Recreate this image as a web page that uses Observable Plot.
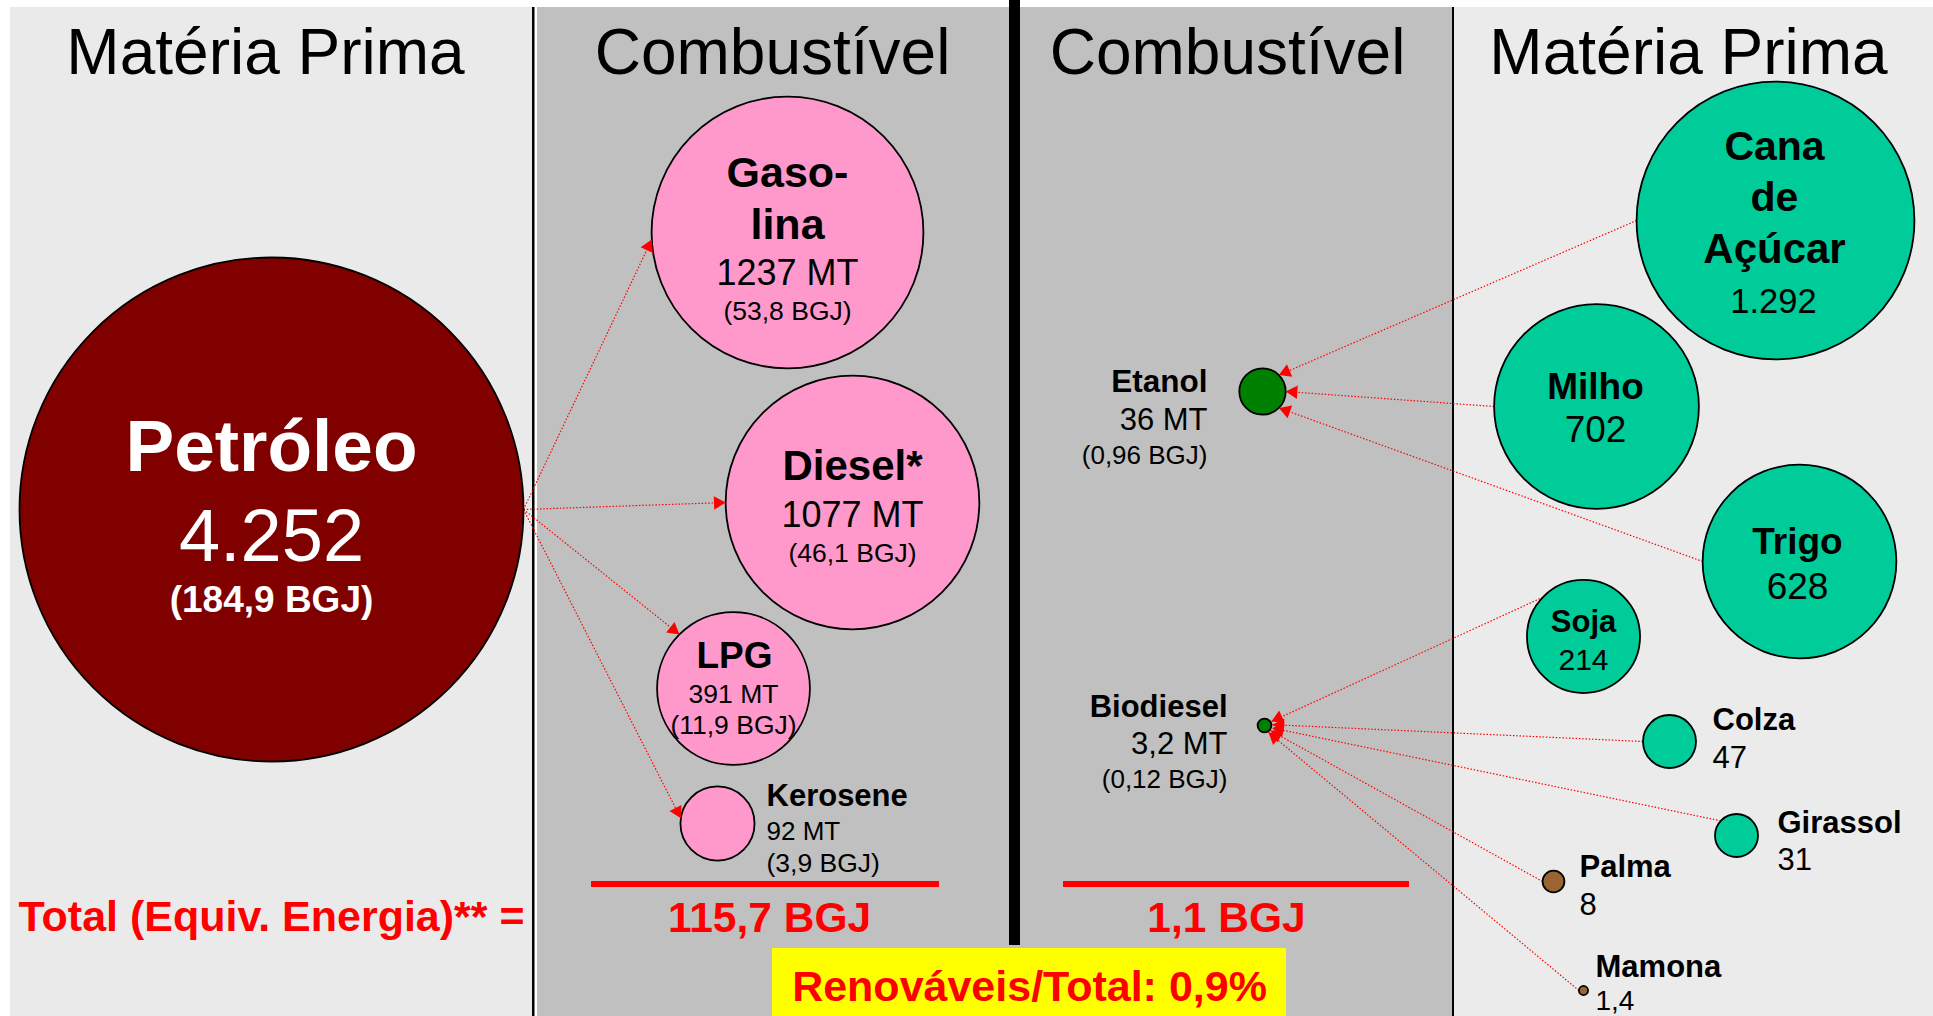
<!DOCTYPE html>
<html>
<head>
<meta charset="utf-8">
<script src="https://cdn.jsdelivr.net/npm/d3@7"></script>
<script src="https://cdn.jsdelivr.net/npm/@observablehq/plot@0.6"></script>
<style>
  html, body { margin: 0; padding: 0; background: #ffffff; overflow: hidden; }
  #chart svg { display: block; }
</style>
</head>
<body>
<div id="chart"></div>
<script>
// ================= DATA =================
const feedName = "Petróleo";
const feedMT = 4252;
const feedBGJ = 184.9;

const fuelNames = ["Gasolina", "Diesel*", "LPG", "Kerosene"];
const fuelMT = [1237, 1077, 391, 92];
const fuelBGJ = [53.8, 46.1, 11.9, 3.9];

const bioNames = ["Etanol", "Biodiesel"];
const bioMT = [36, 3.2];
const bioBGJ = [0.96, 0.12];

const cropNames = ["Cana de Açúcar", "Milho", "Trigo", "Soja", "Colza", "Girassol", "Palma", "Mamona"];
const cropMT = [1292, 702, 628, 214, 47, 31, 8, 1.4];
const cropFuel = ["Etanol", "Etanol", "Etanol", "Biodiesel", "Biodiesel", "Biodiesel", "Biodiesel", "Biodiesel"];

const totalBGJ = [115.7, 1.1];
const renewableShare = 0.9;

const titles = ["Matéria Prima", "Combustível", "Combustível", "Matéria Prima"];
const totalLabel = "Total (Equiv. Energia)** =";
const shareLabel = "Renováveis/Total: ";

// ================= LAYOUT (positions, sizes, styles) =================
const W = 1933, H = 1016;
const titleX = [265, 772, 1227, 1688];
const titleBaseline = 73;

const panelLayout = [
  {x1: 10, x2: 533, y1: 7, y2: H, fill: "#eaeaea"},
  {x1: 537, x2: 1452, y1: 7, y2: H, fill: "#c0c0c0"},
  {x1: 1454, x2: W, y1: 7, y2: H, fill: "#ebebeb"},
  {x1: 532, x2: 534.5, y1: 7, y2: H, fill: "#000000"},
  {x1: 1452, x2: 1454, y1: 7, y2: H, fill: "#000000"},
  {x1: 1009, x2: 1020, y1: 0, y2: 945, fill: "#000000"}
];

const nodeLayout = {
  "Petróleo":       {cx: 271,  cy: 509, fill: "#800000"},
  "Gasolina":       {cx: 787,  cy: 232, fill: "#ff99cc", split: 4},
  "Diesel*":        {cx: 852,  cy: 502, fill: "#ff99cc"},
  "LPG":            {cx: 733,  cy: 688, fill: "#ff99cc"},
  "Kerosene":       {cx: 717,  cy: 823, fill: "#ff99cc"},
  "Etanol":         {cx: 1262, cy: 391, fill: "#008000"},
  "Biodiesel":      {cx: 1264, cy: 725, fill: "#008000"},
  "Cana de Açúcar": {cx: 1775, cy: 220, fill: "#00cc99", split: " "},
  "Milho":          {cx: 1596, cy: 406, fill: "#00cc99"},
  "Trigo":          {cx: 1799, cy: 561, fill: "#00cc99"},
  "Soja":           {cx: 1583, cy: 636, fill: "#00cc99"},
  "Colza":          {cx: 1669, cy: 741, fill: "#00cc99"},
  "Girassol":       {cx: 1736, cy: 835, fill: "#00cc99"},
  "Palma":          {cx: 1553, cy: 881, fill: "#996633"},
  "Mamona":         {cx: 1583, cy: 990, fill: "#996633"}
};

// node, part, dx, dy(baseline), size, weight, anchor, color
const labelLayout = [
  ["Petróleo", "name", 0, -39, 73, "bold", "middle", "#ffffff"],
  ["Petróleo", "value", 0, 51, 74, "normal", "middle", "#ffffff"],
  ["Petróleo", "bgj", 0, 102, 37, "bold", "middle", "#ffffff"],
  ["Gasolina", "name0", 0, -46, 43, "bold", "middle", "#000000"],
  ["Gasolina", "name1", 0, 6, 43, "bold", "middle", "#000000"],
  ["Gasolina", "value", 0, 52, 36, "normal", "middle", "#000000"],
  ["Gasolina", "bgj", 0, 87, 26.5, "normal", "middle", "#000000"],
  ["Diesel*", "name", 0, -23, 42, "bold", "middle", "#000000"],
  ["Diesel*", "value", 0, 24, 36, "normal", "middle", "#000000"],
  ["Diesel*", "bgj", 0, 59, 26.5, "normal", "middle", "#000000"],
  ["LPG", "name", 1, -21, 37, "bold", "middle", "#000000"],
  ["LPG", "value", 0, 14, 26.5, "normal", "middle", "#000000"],
  ["LPG", "bgj", 0, 45, 26.5, "normal", "middle", "#000000"],
  ["Kerosene", "name", 49, -18, 31, "bold", "start", "#000000"],
  ["Kerosene", "value", 49, 16, 26, "normal", "start", "#000000"],
  ["Kerosene", "bgj", 49, 48, 26.5, "normal", "start", "#000000"],
  ["Etanol", "name", -55, 0, 31.5, "bold", "end", "#000000"],
  ["Etanol", "value", -55, 38, 31, "normal", "end", "#000000"],
  ["Etanol", "bgj", -55, 72, 26, "normal", "end", "#000000"],
  ["Biodiesel", "name", -37, -9, 31, "bold", "end", "#000000"],
  ["Biodiesel", "value", -37, 28, 31, "normal", "end", "#000000"],
  ["Biodiesel", "bgj", -37, 62, 26, "normal", "end", "#000000"],
  ["Cana de Açúcar", "name0", -1, -61, 41, "bold", "middle", "#000000"],
  ["Cana de Açúcar", "name1", -1, -10, 41, "bold", "middle", "#000000"],
  ["Cana de Açúcar", "name2", -1, 42, 42, "bold", "middle", "#000000"],
  ["Cana de Açúcar", "value", -2, 92, 34.5, "normal", "middle", "#000000"],
  ["Milho", "name", -1, -8, 37, "bold", "middle", "#000000"],
  ["Milho", "value", -1, 35, 37, "normal", "middle", "#000000"],
  ["Trigo", "name", -2, -8, 37, "bold", "middle", "#000000"],
  ["Trigo", "value", -2, 37, 37, "normal", "middle", "#000000"],
  ["Soja", "name", 0, -5, 31, "bold", "middle", "#000000"],
  ["Soja", "value", 0, 33, 30, "normal", "middle", "#000000"],
  ["Colza", "name", 43, -12, 31, "bold", "start", "#000000"],
  ["Colza", "value", 43, 26, 31, "normal", "start", "#000000"],
  ["Girassol", "name", 41, -3, 31, "bold", "start", "#000000"],
  ["Girassol", "value", 41, 34, 31, "normal", "start", "#000000"],
  ["Palma", "name", 26, -5, 31, "bold", "start", "#000000"],
  ["Palma", "value", 26, 33, 31, "normal", "start", "#000000"],
  ["Mamona", "name", 12, -14, 31, "bold", "start", "#000000"],
  ["Mamona", "value", 12, 19, 28, "normal", "start", "#000000"]
];

// link attachment angles (degrees, screen coords): [from angle, to angle, gap at target]
const linkAngles = {
  "Gasolina": [0, 177, 0], "Diesel*": [0, 180, 0], "LPG": [0, 225, 0], "Kerosene": [0, 188, 0],
  "Cana de Açúcar": [180, -45, 0], "Milho": [180, 0, 0], "Trigo": [180, 45, 0],
  "Soja": [-136, -30, 1], "Colza": [180, -6, 1], "Girassol": [-137, 18, 1],
  "Palma": [180, 40, 1], "Mamona": [180, 60, 1]
};

const totalsLayout = {
  underline: [[591, 939], [1063, 1409]], underlineY: [881, 887],
  textX: [769, 1226], textY: 931, size: 42.5,
  totalLabelX: 18, shareBox: {x1: 772, x2: 1286, y1: 948, y2: H}, shareX: 1029, shareY: 1000
};
const rMax = 252;

// ================= BUILD =================
const loc = d3.formatLocale({decimal: ",", thousands: ".", grouping: [3], currency: ["R$", ""]});
const fmtGroup = loc.format(",");
const fmtPlain = loc.format("");

const nodes = [
  {name: feedName, mt: feedMT, bgj: feedBGJ, group: "feed"},
  ...fuelNames.map((n, i) => ({name: n, mt: fuelMT[i], bgj: fuelBGJ[i], group: "fuel"})),
  ...bioNames.map((n, i) => ({name: n, mt: bioMT[i], bgj: bioBGJ[i], group: "bio"})),
  ...cropNames.map((n, i) => ({name: n, mt: cropMT[i], group: "crop"}))
];
const byName = new Map(nodes.map(d => [d.name, d]));

function nameLines(n) {
  const s = nodeLayout[n.name].split;
  if (s === undefined) return [n.name];
  if (typeof s === "number") return [n.name.slice(0, s) + "-", n.name.slice(s)];
  return n.name.split(s);
}
function partText(n, part) {
  if (part === "name") return n.name;
  if (part.startsWith("name")) return nameLines(n)[+part.slice(4)];
  if (part === "value") return (n.group === "fuel" || n.group === "bio") ? fmtPlain(n.mt) + " MT" : fmtGroup(n.mt);
  if (part === "bgj") return "(" + fmtPlain(n.bgj) + " BGJ)";
}

const labels = labelLayout.map(([node, part, dx, dy, size, weight, anchor, color]) => {
  const n = byName.get(node), L = nodeLayout[node];
  return {x: L.cx + dx, y: L.cy + dy, text: partText(n, part), size, weight, anchor, color};
});
// titles
titles.forEach((t, i) => labels.push({x: titleX[i], y: titleBaseline, text: t, size: 64, weight: "normal", anchor: "middle", color: "#000000"}));
// totals
labels.push({x: totalsLayout.totalLabelX, y: totalsLayout.textY - 1, text: totalLabel, size: 43, weight: "bold", anchor: "start", color: "#ff0000"});
totalBGJ.forEach((v, i) => labels.push({x: totalsLayout.textX[i], y: totalsLayout.textY, text: fmtPlain(v) + " BGJ", size: totalsLayout.size, weight: "bold", anchor: "middle", color: "#ff0000"}));
labels.push({x: totalsLayout.shareX, y: totalsLayout.shareY, text: shareLabel + fmtPlain(renewableShare) + "%", size: 43, weight: "bold", anchor: "middle", color: "#ff0000"});

const rScale = Plot.scale({r: {type: "sqrt", domain: [0, feedMT], range: [0, rMax]}});
const R = v => rScale.apply(v);

function edgePoint(name, deg, gap = 0) {
  const n = byName.get(name), L = nodeLayout[name];
  const r = R(n.mt) + gap, a = deg * Math.PI / 180;
  return [L.cx + r * Math.cos(a), L.cy + r * Math.sin(a)];
}
const linkPairs = [
  ...fuelNames.map(n => ({from: feedName, to: n, key: n})),
  ...cropNames.map((n, i) => ({from: n, to: cropFuel[i], key: n}))
];
const headR = 5;
const headTip = 2 * Math.sqrt(Math.PI * headR * headR / (3 * Math.sqrt(3)));
const links = linkPairs.map(p => {
  const [a0, a1, gap] = linkAngles[p.key];
  const [x1, y1] = edgePoint(p.from, a0);
  const [x2, y2] = edgePoint(p.to, a1, gap);
  const ang = Math.atan2(y2 - y1, x2 - x1);
  return {x1, y1, x2, y2, rot: ang * 180 / Math.PI + 90,
          hx: x2 - headTip * Math.cos(ang), hy: y2 - headTip * Math.sin(ang)};
});

const rects = [
  ...panelLayout,
  ...totalsLayout.underline.map(([a, b]) => ({x1: a, x2: b, y1: totalsLayout.underlineY[0], y2: totalsLayout.underlineY[1], fill: "#ff0000"})),
  {...totalsLayout.shareBox, fill: "#ffff00"}
];

const textMarks = [];
for (const weight of ["normal", "bold"]) {
  for (const anchor of ["start", "middle", "end"]) {
    const sub = labels.filter(d => d.weight === weight && d.anchor === anchor);
    if (!sub.length) continue;
    textMarks.push(Plot.text(sub, {
      x: d => d.x, y: d => d.y, text: d => d.text,
      fontSize: d => d.size, fill: d => d.color,
      fontWeight: weight, textAnchor: anchor, lineAnchor: "bottom"
    }));
  }
}

const chart = Plot.plot({
  width: W, height: H, margin: 0,
  x: {domain: [0, W], range: [0, W], axis: null},
  y: {domain: [0, H], range: [0, H], axis: null},
  r: {type: "sqrt", domain: [0, feedMT], range: [0, rMax]},
  color: {type: "identity"},
  style: {background: "#ffffff", fontFamily: "'Liberation Sans', Arial, Helvetica, sans-serif"},
  marks: [
    Plot.rect(rects, {x1: "x1", x2: "x2", y1: "y1", y2: "y2", fill: "fill"}),
    Plot.link(links, {x1: "x1", y1: "y1", x2: "x2", y2: "y2", stroke: "#ff0000", strokeWidth: 1.2, strokeDasharray: "1.5,1.8"}),
    Plot.dot(nodes, {x: d => nodeLayout[d.name].cx, y: d => nodeLayout[d.name].cy, r: "mt",
      fill: d => nodeLayout[d.name].fill, stroke: "#000000", strokeWidth: 1.8}),
    Plot.dot(links, {x: "hx", y: "hy", symbol: "triangle", r: headR, rotate: "rot", fill: "#ff0000", stroke: "none"}),
    ...textMarks
  ]
});
document.getElementById("chart").appendChild(chart);
</script>
</body>
</html>
